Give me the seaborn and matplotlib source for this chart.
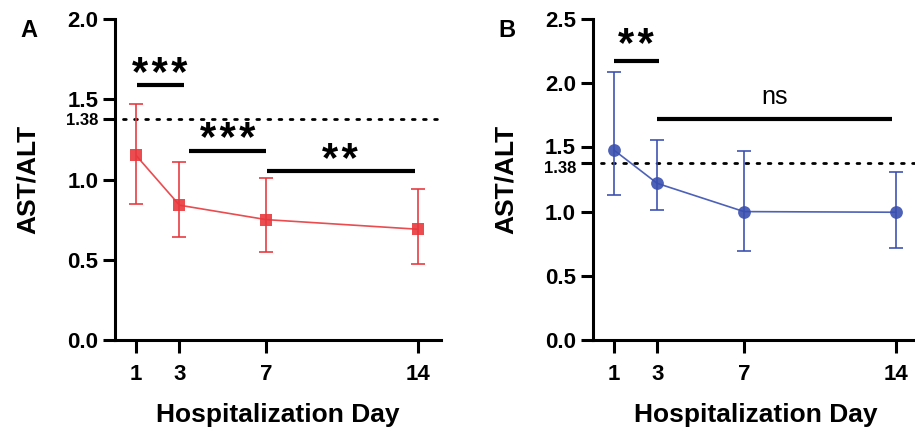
import matplotlib
matplotlib.use("Agg")
import matplotlib.pyplot as plt
import matplotlib.transforms as mtransforms
import seaborn as sns

# --- Data ---
days = [1, 3, 7, 14]

# Panel A (red squares)
a_mean = [1.15, 0.84, 0.75, 0.69]
a_low = [0.85, 0.64, 0.55, 0.475]
a_high = [1.47, 1.11, 1.01, 0.94]

# Panel B (blue circles)
b_mean = [1.48, 1.22, 1.00, 0.995]
b_low = [1.13, 1.015, 0.69, 0.72]
b_high = [2.085, 1.56, 1.47, 1.31]

cutoff = 1.38

# significance brackets: (x0, x1, y, label, label_y, label_x)
a_sig = [(1.03, 3.2, 1.587, "***", 1.65, 2.1),
         (3.45, 7.0, 1.176, "***", 1.245, 5.2),
         (7.04, 13.85, 1.05, "**", 1.115, 10.4)]
b_sig = [(1.03, 3.1, 2.175, "**", 2.29, 2.0),
         (2.97, 13.8, 1.72, "ns", 1.80, 8.4)]

RED = "#E8383D"
BLUE = "#3A50B0"

sns.set_style("ticks")
plt.rcParams["font.family"] = ["Liberation Sans", "DejaVu Sans"]
plt.rcParams.update({"text.color": "black", "axes.labelcolor": "black",
                     "xtick.color": "black", "ytick.color": "black",
                     "axes.edgecolor": "black"})

fig = plt.figure(figsize=(9.15, 4.28), dpi=100)
ax_a = fig.add_axes([0.1257, 0.2056, 0.3563, 0.75])
ax_b = fig.add_axes([0.6478, 0.2056, 0.3563, 0.75])


def nudge(lbl, dy_pt):
    lbl.set_transform(lbl.get_transform() +
                      mtransforms.ScaledTranslation(0, dy_pt / 72, fig.dpi_scale_trans))


def draw_panel(ax, mean, low, high, color, marker, msize, ymax, yticks, sigs,
               letter, cut_shift, above_shift):
    sns.lineplot(x=days, y=mean, ax=ax, color=color, lw=1.2, marker=marker,
                 markersize=msize, markeredgewidth=0, alpha=0.9, zorder=3)
    yerr = [[m - l for m, l in zip(mean, low)], [h - m for m, h in zip(mean, high)]]
    ax.errorbar(days, mean, yerr=yerr, fmt="none", ecolor=color, elinewidth=1.3,
                capsize=4.7, capthick=1.3, alpha=0.9, zorder=2)

    ax.plot([0.4, 15.05], [cutoff, cutoff], color="black", lw=2,
            ls=(0, (1, 3)), dash_capstyle="round", zorder=1)

    for x0, x1, y, lab, ly, lx in sigs:
        ax.plot([x0, x1], [y, y], color="black", lw=3, solid_capstyle="butt")
        if lab == "ns":
            ax.text(lx, ly, lab, ha="center", va="bottom", fontsize=18)
        else:
            ax.text(lx, ly, "\u200a".join(lab), ha="center", va="center",
                    fontsize=30, fontweight="bold")

    ax.set_xlim(0.03, 15.05)
    ax.set_ylim(0, ymax)
    ax.set_xticks(days)
    ax.set_xticklabels([str(d) for d in days], fontsize=16, fontweight="bold")
    ticks = sorted(yticks + [cutoff])
    ax.set_yticks(ticks)
    ax.set_yticklabels([f"{t:.2f}" if t == cutoff else f"{t:.1f}" for t in ticks],
                       fontsize=16, fontweight="bold")
    ax.tick_params(axis="both", length=9, width=2.2, direction="out")
    ax.tick_params(axis="x", pad=8)
    ax.tick_params(axis="y", pad=3)
    # adjust the cutoff label after tick_params (which resets transforms)
    for lbl, t in zip(ax.get_yticklabels(), ticks):
        if t == cutoff:
            lbl.set_fontsize(12)
            nudge(lbl, -cut_shift)
        elif t == 1.5:
            nudge(lbl, above_shift)
    for s in ["left", "bottom"]:
        ax.spines[s].set_linewidth(2.2)
    sns.despine(ax=ax)

    ax.set_xlabel("Hospitalization Day", fontsize=19, fontweight="bold")
    ax.set_ylabel("AST/ALT", fontsize=19, fontweight="bold")
    ax.xaxis.set_label_coords(0.5, -0.195)
    ax.yaxis.set_label_coords(-0.23, 0.5)
    ax.text(-0.29, 1.0, letter, transform=ax.transAxes, fontsize=17,
            fontweight="bold", ha="left", va="top")


draw_panel(ax_a, a_mean, a_low, a_high, RED, "s", 8.7, 2.0,
           [0.0, 0.5, 1.0, 1.5, 2.0], a_sig, "A", 0.5, 0)
draw_panel(ax_b, b_mean, b_low, b_high, BLUE, "o", 9.2, 2.5,
           [0.0, 0.5, 1.0, 1.5, 2.0, 2.5], b_sig, "B", 3, 1)

fig.savefig("out.png", dpi=100)
